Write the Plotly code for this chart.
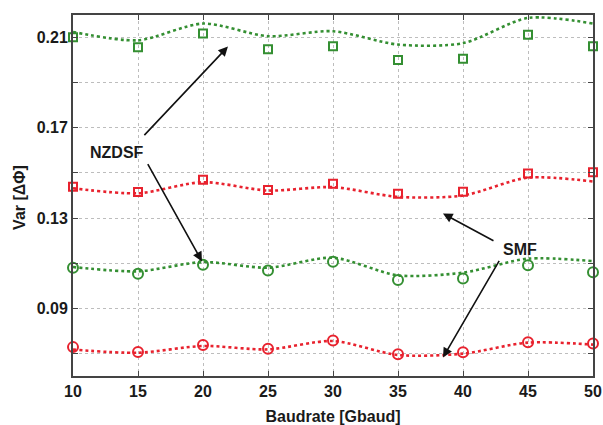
import plotly.graph_objects as go

baud = [10, 15, 20, 25, 30, 35, 40, 45, 50]

# NZDSF (green)
nzdsf_sq = [0.2101, 0.2057, 0.2118, 0.2048, 0.2062, 0.2001, 0.2006, 0.2113, 0.2062]
nzdsf_sq_line = [0.2125, 0.2088, 0.2162, 0.2106, 0.2128, 0.2069, 0.2075, 0.2187, 0.2162]
nzdsf_ci = [0.1080, 0.1053, 0.1093, 0.1068, 0.1106, 0.1025, 0.1032, 0.1091, 0.1060]
nzdsf_ci_line = [0.1083, 0.1064, 0.1105, 0.1080, 0.1124, 0.1046, 0.1058, 0.1120, 0.1109]

# SMF (red)
smf_sq = [0.1439, 0.1415, 0.1470, 0.1424, 0.1452, 0.1408, 0.1417, 0.1498, 0.1503]
smf_sq_line = [0.1432, 0.1410, 0.1459, 0.1422, 0.1437, 0.1394, 0.1400, 0.1479, 0.1462]
smf_ci = [0.0728, 0.0706, 0.0737, 0.0721, 0.0757, 0.0696, 0.0705, 0.0750, 0.0744]
smf_ci_line = [0.0717, 0.0703, 0.0733, 0.0718, 0.0755, 0.0693, 0.0699, 0.0748, 0.0739]

y_ticks = [0.07, 0.09, 0.11, 0.13, 0.15, 0.17, 0.19, 0.21]
y_ticktext = ["", "0.09", "", "0.13", "", "0.17", "", "0.21"]
x_ticks = [10, 15, 20, 25, 30, 35, 40, 45, 50]

GREEN = "#348f32"
RED = "#e8222e"

fig = go.Figure()

def add_line(y, color):
    fig.add_trace(go.Scatter(x=baud, y=y, mode="lines",
                             line=dict(color=color, width=2.6, dash="dot", shape="spline", smoothing=0.8),
                             showlegend=False, hoverinfo="skip"))

def add_markers(y, color, symbol, size):
    fig.add_trace(go.Scatter(x=baud, y=y, mode="markers",
                             marker=dict(symbol=symbol, size=size, color=color,
                                         line=dict(color=color, width=2)),
                             showlegend=False, cliponaxis=False))

add_line(nzdsf_sq_line, GREEN)
add_markers(nzdsf_sq, GREEN, "square-open", 8)
add_line(nzdsf_ci_line, GREEN)
add_markers(nzdsf_ci, GREEN, "circle-open", 10)
add_line(smf_sq_line, RED)
add_markers(smf_sq, RED, "square-open", 8)
add_line(smf_ci_line, RED)
add_markers(smf_ci, RED, "circle-open", 10)

font_bold = "Liberation Sans"

def arrow(x, y, ax, ay):
    fig.add_annotation(x=x, y=y, ax=ax, ay=ay, xref="x", yref="y", axref="x", ayref="y",
                       text="", showarrow=True, arrowhead=2, arrowsize=1.2, arrowwidth=1.6,
                       arrowcolor="#111111", standoff=0, startstandoff=0)

arrow(21.92, 0.2060, 15.38, 0.1661)
arrow(19.92, 0.1108, 15.69, 0.1546)
arrow(38.46, 0.1320, 42.46, 0.1196)
arrow(38.46, 0.0682, 42.85, 0.1117)

fig.add_annotation(x=13.38, y=0.1590, xref="x", yref="y", text="<b>NZDSF</b>", showarrow=False,
                   font=dict(family=font_bold, size=16, color="#1a1a1a"))
fig.add_annotation(x=44.38, y=0.1160, xref="x", yref="y", text="<b>SMF</b>", showarrow=False,
                   font=dict(family=font_bold, size=16, color="#1a1a1a"))

# y axis title placed as rotated text
fig.add_annotation(x=-0.102, y=0.496, xref="paper", yref="paper", text="<b>Var [ΔΦ]</b>",
                   textangle=-90, showarrow=False, xanchor="center", yanchor="middle",
                   font=dict(family=font_bold, size=16, color="#1a1a1a"))

fig.update_layout(
    width=603, height=425,
    margin=dict(l=73, r=10, t=15, b=49),
    paper_bgcolor="white", plot_bgcolor="white",
    font=dict(family=font_bold, size=16, color="#1a1a1a"),
    showlegend=False,
)
fig.update_xaxes(
    range=[10, 50], tickvals=x_ticks, ticktext=[f"<b>{v}</b>" for v in x_ticks],
    showgrid=True, gridcolor="#bdbdbd", griddash="dot", gridwidth=1,
    showline=True, linecolor="#444444", linewidth=2, mirror="allticks",
    ticks="inside", ticklen=5, tickcolor="#444444", zeroline=False, automargin=False,
    title=dict(text="<b>Baudrate [Gbaud]</b>", font=dict(size=16)),
    tickfont=dict(size=16),
)
fig.update_yaxes(
    range=[0.06, 0.22], tickvals=y_ticks,
    ticktext=[f"<b>{t}</b>" if t else "" for t in y_ticktext],
    showgrid=True, gridcolor="#bdbdbd", griddash="dot", gridwidth=1,
    showline=True, linecolor="#444444", linewidth=2, mirror="allticks",
    ticks="inside", ticklen=5, tickcolor="#444444", zeroline=False, automargin=False,
    tickfont=dict(size=16),
)

fig.write_html("out.html")
